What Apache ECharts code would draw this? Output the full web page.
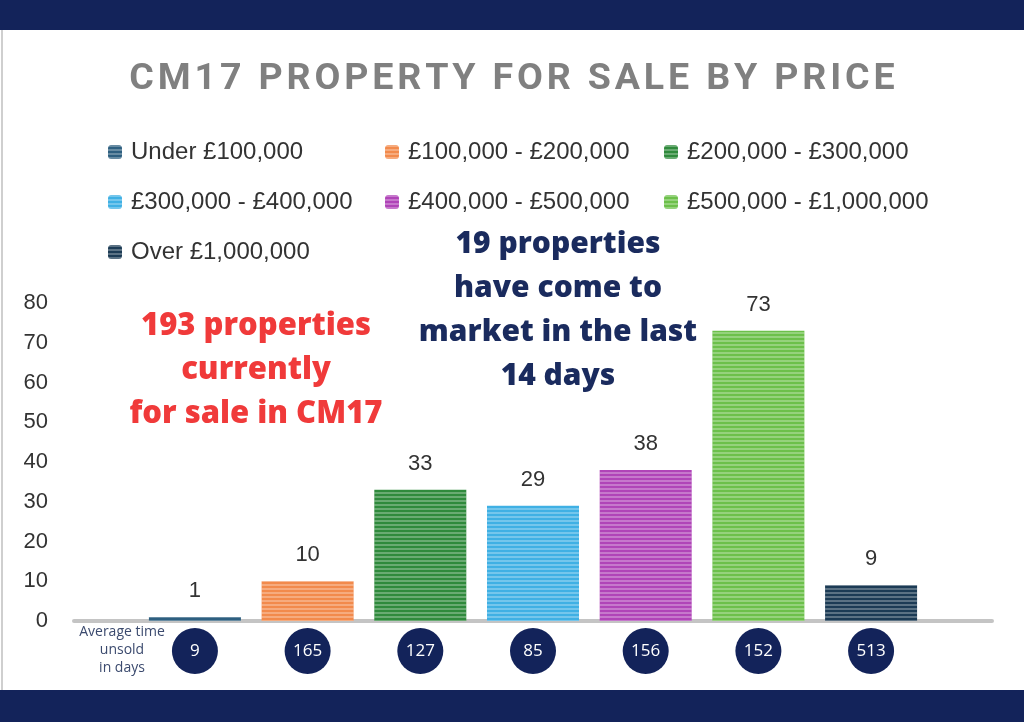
<!DOCTYPE html>
<html>
<head>
<meta charset="utf-8">
<title>CM17 property for sale by price</title>
<script src="https://cdn.jsdelivr.net/npm/echarts@6/dist/echarts.min.js"></script>
<style>
  html, body { margin: 0; padding: 0; background: #13235a; }
  #chart { width: 1024px; height: 722px; }
</style>
</head>
<body>
<div id="chart"></div>
<script>
// price bands, number of properties for sale, average days unsold
var bands = ['Under £100,000', '£100,000 - £200,000', '£200,000 - £300,000',
  '£300,000 - £400,000', '£400,000 - £500,000', '£500,000 - £1,000,000', 'Over £1,000,000'];
var counts = [1, 10, 33, 29, 38, 73, 9];
var avgDays = [9, 165, 127, 85, 156, 152, 513];
var yTicks = [0, 10, 20, 30, 40, 50, 60, 70, 80];

var colors = ['#2e5f80', '#f28a4c', '#2f8a3c', '#3fb0e4', '#b044b8', '#6cc04a', '#1c3b55'];
var navy = '#13235a';

// spread the title letters out a little (hair spaces)
var title = 'CM17 PROPERTY FOR SALE BY PRICE'.split('').join('\u200A');

var stripes = {
  symbol: 'rect',
  symbolSize: 1,
  dashArrayX: [[1, 0]],
  dashArrayY: [2, 2],
  rotation: 0,
  color: 'rgba(255,255,255,0.28)'
};

var series = bands.map(function (name, i) {
  return {
    name: name,
    type: 'bar',
    stack: 'all',
    barWidth: 92,
    data: [[i, counts[i]]],
    itemStyle: { color: colors[i], decal: stripes },
    label: {
      show: true,
      position: 'top',
      distance: 15,
      fontFamily: 'Liberation Sans',
      fontSize: 22,
      color: '#333'
    }
  };
});

// the navy bubbles with the average time unsold, under each bar
series.push({
  name: 'days',
  type: 'scatter',
  clip: false,
  symbol: 'circle',
  symbolSize: 46,
  symbolOffset: [0, 30],
  z: 5,
  data: avgDays.map(function (d, i) { return [i, 0, d]; }),
  itemStyle: { color: navy, opacity: 1 },
  label: {
    show: true,
    position: 'inside',
    formatter: function (p) { return String(p.value[2]); },
    color: '#fff',
    fontFamily: 'Open Sans',
    fontSize: 17
  }
});

var legendText = { fontFamily: 'Liberation Sans', fontSize: 24, color: '#333', lineHeight: 24, padding: [0, 0, 0, 4] };
function legendCol(left, names) {
  return {
    orient: 'vertical',
    left: left,
    top: 135,
    itemWidth: 14,
    itemHeight: 14,
    itemGap: 26,
    selectedMode: false,
    data: names,
    textStyle: legendText
  };
}

var option = {
  backgroundColor: navy,
  animation: false,
  title: {
    text: title,
    left: 'center',
    top: 56,
    textStyle: { fontFamily: 'Roboto', fontWeight: 'bold', fontSize: 37.6, color: '#808080' }
  },
  legend: [
    legendCol(103, [bands[0], bands[3], bands[6]]),
    legendCol(380, [bands[1], bands[4]]),
    legendCol(659, [bands[2], bands[5]])
  ],
  grid: { left: 74, right: 32, top: 303, bottom: 101 },
  xAxis: {
    type: 'value',
    min: -1.073,
    max: 7.073,
    axisLine: { show: true, onZero: false, lineStyle: { color: '#c4c4c4', width: 4 } },
    axisTick: { show: false },
    axisLabel: { show: false },
    splitLine: { show: false }
  },
  yAxis: {
    type: 'value',
    min: yTicks[0],
    max: yTicks[yTicks.length - 1],
    interval: 10,
    axisLine: { show: false },
    axisTick: { show: false },
    splitLine: { show: false },
    axisLabel: { margin: 26, fontFamily: 'Liberation Sans', fontSize: 22, color: '#333' }
  },
  graphic: [
    { type: 'rect', z: -10, shape: { x: 0, y: 30, width: 1024, height: 660 }, style: { fill: '#fff' } },
    { type: 'line', z: -9, shape: { x1: 2, y1: 30, x2: 2, y2: 690 }, style: { stroke: '#cfcfcf', lineWidth: 2 } },
    {
      type: 'text', z: 10,
      style: {
        x: 256, y: 304,
        text: '193 properties\ncurrently\nfor sale in CM17',
        fill: '#f03a3a',
        font: '800 31px "Open Sans"',
        lineHeight: 44,
        textAlign: 'center'
      }
    },
    {
      type: 'text', z: 10,
      style: {
        x: 558, y: 222,
        text: '19 properties\nhave come to\nmarket in the last\n14 days',
        fill: '#1a2b5e',
        font: '800 30px "Open Sans"',
        lineHeight: 44,
        textAlign: 'center'
      }
    },
    {
      type: 'text', z: 10,
      style: {
        x: 122, y: 623,
        text: 'Average time\nunsold\nin days',
        fill: '#3b4a6e',
        font: '14px "Open Sans"',
        lineHeight: 18,
        textAlign: 'center'
      }
    }
  ],
  series: series
};

var chart = echarts.init(document.getElementById('chart'));
chart.setOption(option);
</script>
</body>
</html>
